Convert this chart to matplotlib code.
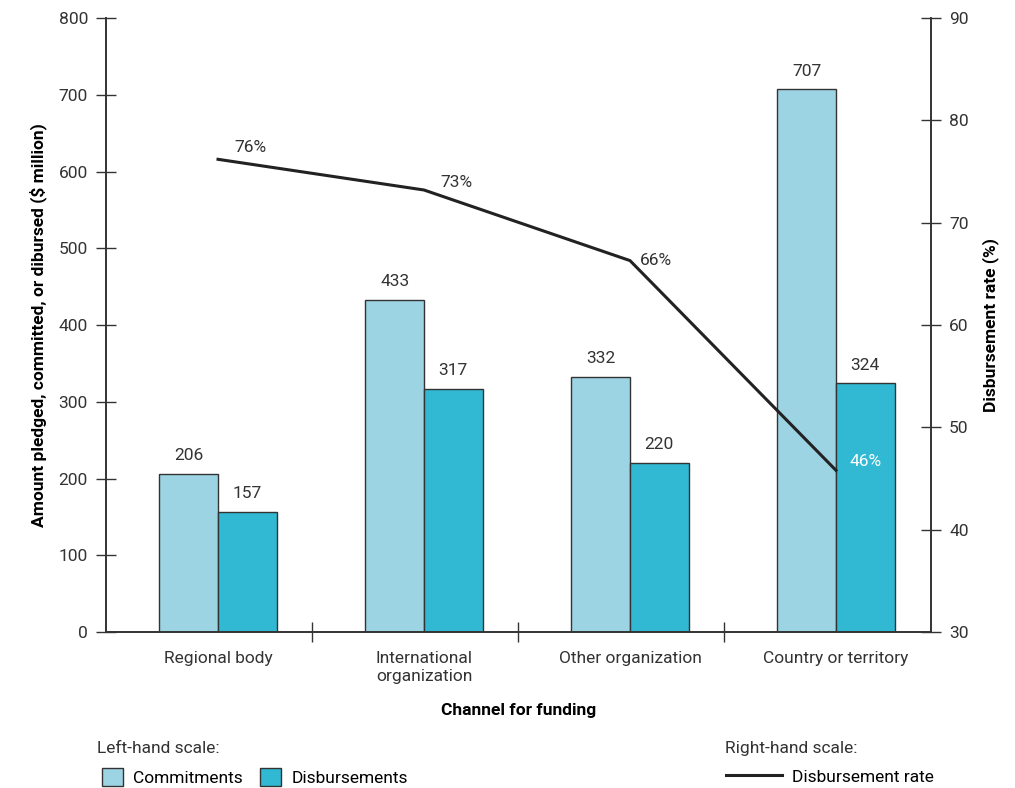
import matplotlib.pyplot as plt
from matplotlib.patches import Patch
from matplotlib.lines import Line2D

plt.rcParams['font.family'] = ['Liberation Sans Narrow', 'Roboto', 'DejaVu Sans']

channels = ["Regional body", "International\norganization", "Other organization", "Country or territory"]
commitments = [206, 433, 332, 707]
disbursements = [157, 317, 220, 324]
rate = [76.2, 73.2, 66.3, 45.8]
rate_labels = ["76%", "73%", "66%", "46%"]

c_commit = "#9dd4e4"
c_disb = "#31b8d3"
dark = "#222222"

fig = plt.figure(figsize=(10.15, 7.88), dpi=100)
ax = fig.add_axes([0.1044, 0.198, 0.8128, 0.779])
ax2 = ax.twinx()

x = list(range(len(channels)))
w = 0.285
ax.bar([i - w / 2 for i in x], commitments, w, color=c_commit, edgecolor="#333333", linewidth=1)
ax.bar([i + w / 2 for i in x], disbursements, w, color=c_disb, edgecolor="#333333", linewidth=1)
for i in x:
    ax.text(i - w / 2, commitments[i] + 14, str(commitments[i]), ha="center", va="bottom", fontsize=12.5, color="#333333")
    ax.text(i + w / 2, disbursements[i] + 14, str(disbursements[i]), ha="center", va="bottom", fontsize=12.5, color="#333333")

ax2.plot(x, rate, color=dark, linewidth=2.2)
# percent labels
offs = [(0.08, 0.4), (0.08, 0.0), (0.05, 0.0)]
for i in range(3):
    ax2.text(x[i] + offs[i][0], rate[i] + offs[i][1], rate_labels[i], ha="left", va="bottom" if i < 2 else "center",
             fontsize=12.5, color="#333333")
ax2.text(x[3] + w / 2, rate[3] + 0.9, rate_labels[3], ha="center", va="center", fontsize=12.5, color="white")

ax.set_xlim(-0.544, 3.461)
ax.set_ylim(0, 800)
ax2.set_ylim(30, 90)
ax.set_yticks(range(0, 801, 100))
ax2.set_yticks(range(30, 91, 10))
ax.set_xticks(x)
ax.set_xticklabels(channels, fontsize=12.5, color="#333333", va="top")
ax.set_xticks([0.456, 1.456, 2.456], minor=True)
ax.tick_params(axis="x", which="major", length=0, pad=14)
ax.tick_params(axis="x", which="minor", direction="inout", length=14, width=1, color="#333333")
ax.tick_params(axis="y", direction="inout", length=14, width=1, labelsize=12.5, labelcolor="#333333", pad=6, color="#333333")
ax2.tick_params(axis="y", direction="inout", length=14, width=1, labelsize=12.5, labelcolor="#333333", pad=6, color="#333333")

for a in (ax, ax2):
    a.spines["top"].set_visible(False)
    for s in ("left", "right", "bottom"):
        a.spines[s].set_color("#333333")
        a.spines[s].set_linewidth(1.2)

ax.set_ylabel("Amount pledged, committed, or dibursed ($ million)", fontsize=12.5, fontweight="bold", labelpad=8)
ax2.set_ylabel("Disbursement rate (%)", fontsize=12.5, fontweight="bold", labelpad=10)
ax.set_xlabel("Channel for funding", fontsize=12.5, fontweight="bold", labelpad=14)

fig.text(0.096, 0.044, "Left-hand scale:", fontsize=12.5, color="#333333")
fig.text(0.714, 0.044, "Right-hand scale:", fontsize=12.5, color="#333333")
h1 = [Patch(facecolor=c_commit, edgecolor="#333333", label="Commitments"),
      Patch(facecolor=c_disb, edgecolor="#333333", label="Disbursements")]
fig.legend(handles=h1, loc="center left", bbox_to_anchor=(0.085, 0.014), ncol=2, frameon=False,
           fontsize=12.5, handlelength=1.2, handleheight=1.3, columnspacing=1.0, handletextpad=0.6)
h2 = [Line2D([0], [0], color=dark, linewidth=2.2, label="Disbursement rate")]
fig.legend(handles=h2, loc="center left", bbox_to_anchor=(0.7, 0.014), frameon=False,
           fontsize=12.5, handlelength=3.2, handletextpad=0.6)

fig.savefig("out.png", dpi=100)
